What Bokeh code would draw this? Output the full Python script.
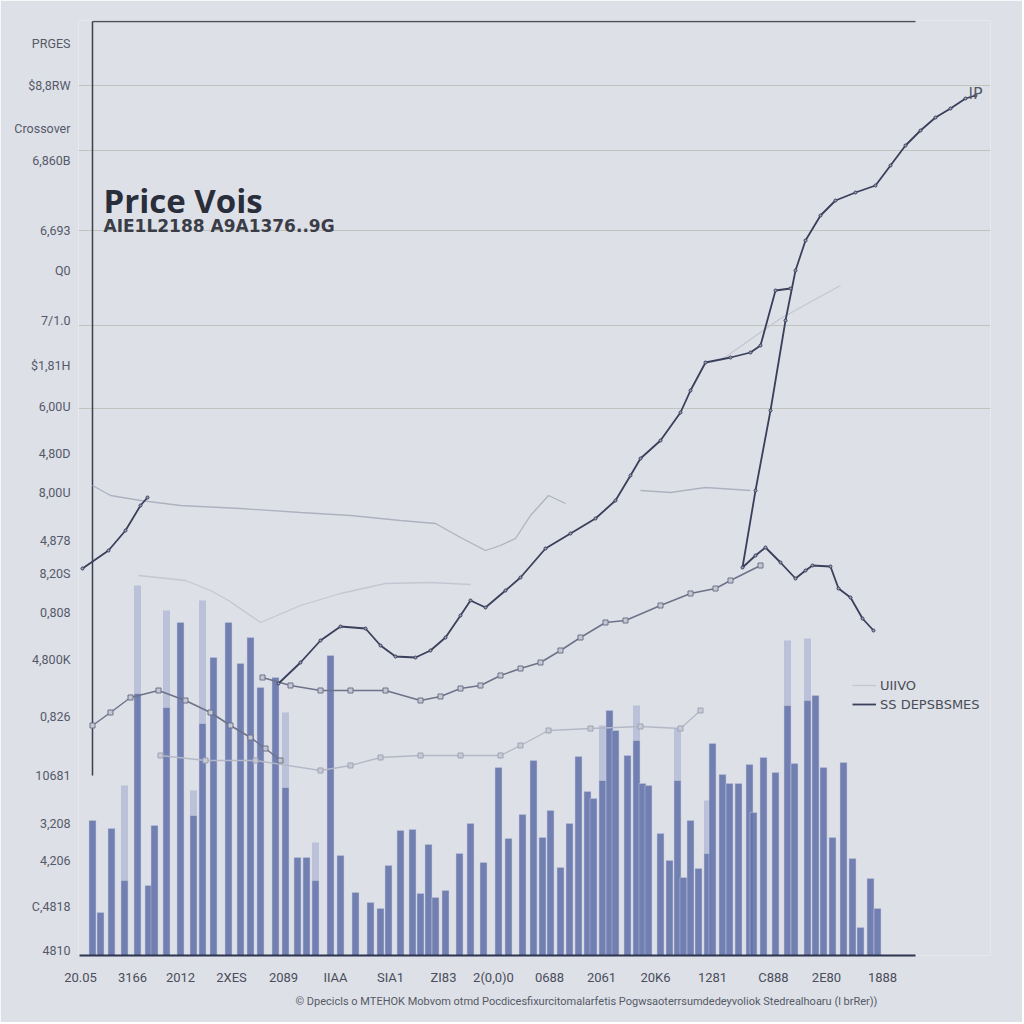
from bokeh.plotting import figure
from bokeh.models import Range1d, FixedTicker, Label, Legend, LegendItem, Title
from bokeh.embed import file_html
from bokeh.resources import INLINE

nan = float("nan")

# ---- volume bars (time index, volume) ----
bar_t = [0, 8, 19, 32, 45, 56, 62, 74, 88, 101, 110, 121, 136, 148, 158, 168, 183, 193, 205, 214,
         223, 238, 248, 263, 278, 288, 296, 308, 320, 328, 336, 343, 353, 367, 378, 391, 406, 416,
         430, 441, 450, 458, 468, 477, 486, 495, 501, 510, 517, 523, 535, 544, 550, 556, 568, 577,
         585, 591, 598, 606, 615, 620, 630, 637, 646, 657, 661, 671, 683, 695, 702, 715, 723, 731,
         740, 751, 760, 768, 778, 785]
vol_solid = [135, 43, 127, 75, 262, 70, 130, 248, 333, 140, 232, 298, 333, 292, 318, 268, 278, 168, 98, 98,
             75, 300, 100, 63, 53, 47, 90, 125, 126, 62, 111, 58, 65, 102, 132, 93, 188, 117,
             141, 195, 118, 145, 88, 132, 199, 164, 157, 175, 245, 225, 200, 215, 172, 170, 122, 95,
             175, 78, 135, 87, 102, 212, 181, 172, 172, 191, 143, 198, 183, 250, 192, 255, 260, 188,
             118, 193, 97, 28, 77, 47]
vol_fade = [135, 43, 127, 170, 370, 70, 130, 345, 333, 165, 355, 298, 333, 292, 318, 268, 278, 243, 98, 98,
            113, 300, 100, 63, 53, 47, 90, 125, 126, 62, 111, 58, 65, 102, 132, 93, 188, 117,
            141, 195, 118, 145, 88, 132, 199, 164, 157, 230, 245, 225, 200, 250, 172, 170, 122, 95,
            227, 78, 135, 87, 155, 212, 181, 172, 172, 191, 143, 198, 183, 315, 192, 317, 260, 188,
            118, 193, 97, 28, 77, 47]

# ---- price series (NaN = break) ----
price_t = [-10, 16, 33, 48, 55, nan,
           186, 208, 228, 248, 273, 288, 303, 323, 338, 353, 368, 378, 393, 413, 428, 453, 478, 503,
           523, 538, 548, 568, 588, 598, 613, 638, 658, 668, 683, 698, nan,
           781, 770, 758, 746, 738, 720, 713, 703, 688, 673, 663, 650, 663, 678, 693, 703, 713, 728,
           743, 763, 783, 798, 813, 828, 843, 858, 873, 883]
price = [387, 405, 425, 450, 458, nan,
         272, 293, 315, 329, 327, 310, 299, 298, 305, 318, 340, 355, 348, 365, 378, 407, 422, 437,
         455, 480, 497, 515, 543, 565, 593, 598, 603, 610, 665, 667, nan,
         325, 337, 358, 367, 389, 390, 385, 377, 393, 408, 400, 388, 465, 545, 635, 685, 715, 740,
         755, 763, 770, 790, 810, 825, 838, 847, 857, 860]

avg_t = [0, 18, 38, 66, 93, 118, 138, 158, 173, 188, nan,
         170, 198, 228, 258, 293, 328, 348, 368, 388, 408, 428, 448, 468, 488, 513, 533, 568, 598,
         623, 638, 668]
avg = [230, 243, 258, 265, 255, 243, 230, 218, 207, 195, nan,
       278, 270, 265, 265, 265, 255, 259, 267, 270, 280, 287, 293, 305, 318, 333, 335, 350, 362,
       367, 375, 390]

ref_t = [0, 18, 48, 88, 148, 208, 258, 308, 343, 368, 393, 408, 423, 438, 456, 473, nan,
         548, 578, 613, 658]
ref = [470, 460, 455, 450, 447, 443, 440, 435, 432, 418, 405, 410, 417, 440, 460, 452, nan,
       465, 463, 468, 465]

trend_t = [46, 93, 118, 136, 168, 208, 248, 293, 338, 378, nan, 628, 688, 748]
trend = [380, 375, 365, 355, 333, 350, 362, 372, 373, 371, nan, 595, 637, 670]

low_t = [68, 113, 163, 228, 258, 288, 328, 368, 408, 428, 456, 498, 548, 588, 608]
low = [200, 195, 195, 185, 190, 198, 200, 200, 200, 210, 225, 227, 229, 227, 245]

# ---- axis ticks / labels ----
y_ticks = [912, 870, 827, 795, 725, 685, 635, 590, 549, 502, 463, 415, 382, 343, 296, 239, 180,
           132, 95, 49, 5]
y_labels = ["PRGES", "$8,8RW", "Crossover", "6,860B", "6,693", "Q0", "7/1.0", "$1,81H", "6,00U",
            "4,80D", "8,00U", "4,878", "8,20S", "0,808", "4,800K", "0,826", "10681", "3,208",
            "4,206", "C,4818", "4810"]
x_ticks = [-12, 40, 88, 139, 191, 243, 298, 351, 401, 457, 509, 563, 620, 681, 734, 790]
x_labels = ["20.05", "3166", "2012", "2XES", "2089", "IIAA", "SIA1", "ZI83", "2(0,0)0", "0688",
            "2061", "20K6", "1281", "C888", "2E80", "1888"]
grid_levels = [870, 805, 725, 630, 547]

BG = "#dde0e6"

p = figure(width=1022, height=1022, output_backend="svg", toolbar_location=None,
           x_range=Range1d(-14, 898), y_range=Range1d(0, 935),
           min_border_left=78, min_border_right=32, min_border_top=20, min_border_bottom=67)
p.background_fill_color = BG
p.border_fill_color = BG
p.outline_line_color = None

p.xgrid.visible = False
p.ygrid.ticker = FixedTicker(ticks=grid_levels)
p.ygrid.grid_line_color = "#b9bdb2"
p.ygrid.grid_line_alpha = 0.8

p.yaxis.ticker = FixedTicker(ticks=y_ticks)
p.yaxis.major_label_overrides = {t: l for t, l in zip(y_ticks, y_labels)}
p.yaxis.axis_line_color = None
p.yaxis.major_tick_line_color = None
p.yaxis.minor_tick_line_color = None
p.yaxis.major_label_standoff = 2
p.yaxis.major_label_text_font = "Roboto"
p.yaxis.major_label_text_font_size = "12.5px"
p.yaxis.major_label_text_color = "#55596a"

p.xaxis.ticker = FixedTicker(ticks=x_ticks)
p.xaxis.major_label_overrides = {t: l for t, l in zip(x_ticks, x_labels)}
p.xaxis.bounds = (-13, 823)
p.xaxis.axis_line_color = "#2f3550"
p.xaxis.axis_line_width = 2
p.xaxis.major_tick_line_color = None
p.xaxis.minor_tick_line_color = None
p.xaxis.major_label_standoff = 8
p.xaxis.major_label_text_font = "Roboto"
p.xaxis.major_label_text_font_size = "13px"
p.xaxis.major_label_text_color = "#4a4e5c"

# footer note below the axis
p.add_layout(Title(text="© Dpecicls o MTEHOK Mobvom otmd Pocdicesfixurcitomalarfetis Pogwsaoterrsumdedeyvoliok "
                        "Stedrealhoaru (l brRer))",
                   align="left", offset=217, text_font="Roboto", text_font_size="11px",
                   text_font_style="normal", text_color="#555a66", standoff=10), "below")

# frame lines (left price axis and top border)
p.segment(x0=[0], y0=[180], x1=[0], y1=[934], line_color="#3c3f4c", line_width=1.5)
p.segment(x0=[0], y0=[934], x1=[823], y1=[934], line_color="#4a4d58", line_width=1.5)

# volume bars
p.vbar(x=bar_t, top=vol_fade, width=7, fill_color="#a4acd0", fill_alpha=0.6, line_color=None)
p.vbar(x=bar_t, top=vol_solid, width=7, fill_color="#6070a8", fill_alpha=0.82,
       line_color="#c9cde0", line_width=0.5)

# lines
r_trend = p.line(trend_t, trend, line_color="#c4c7d2", line_width=1.3)
p.line(ref_t, ref, line_color="#aeb2c0", line_width=1.3)
p.line(low_t, low, line_color="#b4b8c6", line_width=1.3)
p.scatter(low_t, low, marker="square", size=5, fill_color="#c8cbd6", line_color="#9fa3b3")
p.line(avg_t, avg, line_color="#6d7289", line_width=1.5)
p.scatter(avg_t, avg, marker="square", size=5, fill_color="#c5c8d3", line_color="#6d7289")
r_price = p.line(price_t, price, line_color="#3a3f5c", line_width=1.8)
p.scatter(price_t, price, marker="circle", size=3, fill_color="#9da2b6", line_color="#3a3f5c")

legend = Legend(items=[LegendItem(label="UIIVO", renderers=[r_trend]),
                       LegendItem(label="SS DEPSBSMES", renderers=[r_price])],
                location=(774, 243), orientation="vertical", glyph_width=24, glyph_height=16,
                label_text_font="DejaVu Sans", label_text_font_size="13px",
                label_text_color="#4a4d58", spacing=3, padding=0, margin=0, label_standoff=4,
                border_line_color=None, background_fill_alpha=0)
p.add_layout(legend)

# texts inside the plot
p.add_layout(Label(x=11, y=755, text="Price Vois", text_font="Open Sans", text_font_size="33px",
                   text_color="#2a2d3a", text_font_style="bold", text_baseline="alphabetic"))
p.add_layout(Label(x=11, y=730, text="AIE1L2188 A9A1376..9G", text_font="DejaVu Sans",
                   text_font_size="17px", text_color="#3a3d48", text_font_style="bold",
                   text_baseline="middle"))
p.add_layout(Label(x=883, y=862, text="lP", text_font="DejaVu Sans", text_font_size="16px",
                   text_color="#555a6a", text_align="center", text_baseline="middle"))

open("out.html", "w").write(file_html(p, INLINE))
